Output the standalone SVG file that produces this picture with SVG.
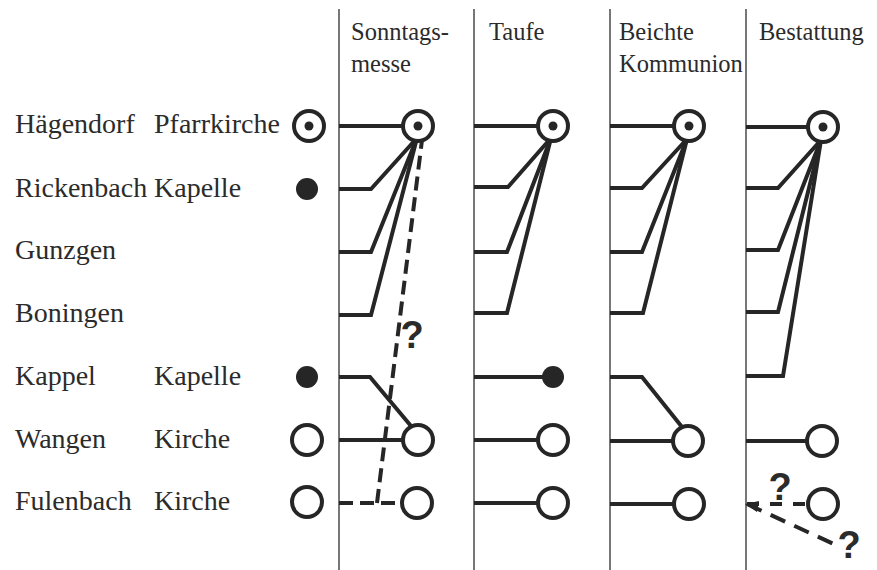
<svg xmlns="http://www.w3.org/2000/svg" width="877" height="570" viewBox="0 0 877 570">
<style>
.lab{font-family:"Liberation Serif","Times New Roman",serif;font-size:28px;fill:#2b2b2b}
.hd{font-family:"Liberation Serif","Times New Roman",serif;font-size:24.5px;fill:#2b2b2b}
.q{font-family:"Liberation Sans",Arial,sans-serif;font-size:38px;font-weight:bold;fill:#2b2b2b;text-anchor:middle}
.sep{stroke:#555;stroke-width:1.6;fill:none}
.ln{stroke:#262626;stroke-width:4;fill:none;stroke-linejoin:miter}
.ds{stroke:#262626;stroke-width:4;fill:none;stroke-dasharray:14 7}
.oc{fill:#fff;stroke:#262626;stroke-width:4}
.dot{fill:#262626}
</style>
<rect width="877" height="570" fill="#fff"/>
<g id="separators">
<line class="sep" x1="339" y1="9" x2="339" y2="570"/>
<line class="sep" x1="474" y1="9" x2="474" y2="570"/>
<line class="sep" x1="610" y1="9" x2="610" y2="570"/>
<line class="sep" x1="746" y1="9" x2="746" y2="570"/>
</g>
<g id="headers">
<text class="hd" x="351" y="40">Sonntags-</text>
<text class="hd" x="351" y="72">messe</text>
<text class="hd" x="489" y="40">Taufe</text>
<text class="hd" x="619" y="40">Beichte</text>
<text class="hd" x="619" y="72">Kommunion</text>
<text class="hd" x="759" y="40">Bestattung</text>
</g>
<g id="connectors">
<!-- column 1: Sonntagsmesse -->
<line class="ln" x1="339" y1="126" x2="410" y2="126"/>
<polyline class="ln" points="339,189 371,189 417,138"/>
<polyline class="ln" points="339,252 371,252 417,138"/>
<polyline class="ln" points="339,315 371,315 417,138"/>
<polyline class="ln" points="339,377 370,377 416,432"/>
<line class="ln" x1="339" y1="440" x2="410" y2="440"/>
<line class="ds" x1="339" y1="503" x2="404" y2="503"/>
<line class="ds" x1="377" y1="503" x2="422" y2="140"/>
<!-- column 2: Taufe -->
<line class="ln" x1="474" y1="126" x2="545" y2="126"/>
<polyline class="ln" points="474,187 508,187 551,138"/>
<polyline class="ln" points="474,252 507,252 551,138"/>
<polyline class="ln" points="474,313 507,313 551,138"/>
<line class="ln" x1="474" y1="377" x2="550" y2="377"/>
<line class="ln" x1="474" y1="440" x2="545" y2="440"/>
<line class="ln" x1="474" y1="503" x2="545" y2="503"/>
<!-- column 3: Beichte Kommunion -->
<line class="ln" x1="610" y1="126" x2="681" y2="126"/>
<polyline class="ln" points="610,188 642,188 687,139"/>
<polyline class="ln" points="610,252 642,252 687,139"/>
<polyline class="ln" points="610,313 643,313 687,139"/>
<polyline class="ln" points="610,377 642,377 686,432"/>
<line class="ln" x1="610" y1="441" x2="680" y2="441"/>
<line class="ln" x1="610" y1="504" x2="681" y2="504"/>
<!-- column 4: Bestattung -->
<line class="ln" x1="746" y1="127" x2="815" y2="127"/>
<polyline class="ln" points="746,188 778,188 821,140"/>
<polyline class="ln" points="746,250 778,250 821,140"/>
<polyline class="ln" points="746,312 778,312 821,140"/>
<polyline class="ln" points="746,376 783,376 821,140"/>
<line class="ln" x1="746" y1="441" x2="814" y2="441"/>
<line class="ln" x1="747" y1="504" x2="815" y2="504" style="stroke-dasharray:12 11"/>
<line class="ln" x1="747" y1="504" x2="838" y2="546" style="stroke-dasharray:16 10"/>
<polygon class="dot" points="745,504 759,501 757,512"/>
</g>
<g id="row-haegendorf">
<text class="lab" x="15" y="133">Hägendorf</text>
<text class="lab" x="154" y="133">Pfarrkirche</text>
<circle class="oc" cx="309" cy="126" r="15"/><circle class="dot" cx="309" cy="126" r="4.5"/>
</g>
<g id="row-rickenbach">
<text class="lab" x="15" y="197">Rickenbach</text>
<text class="lab" x="154" y="197">Kapelle</text>
<circle class="dot" cx="307" cy="189" r="11"/>
</g>
<g id="row-gunzgen">
<text class="lab" x="15" y="259">Gunzgen</text>
</g>
<g id="row-boningen">
<text class="lab" x="15" y="322">Boningen</text>
</g>
<g id="row-kappel">
<text class="lab" x="15" y="385">Kappel</text>
<text class="lab" x="154" y="385">Kapelle</text>
<circle class="dot" cx="307" cy="377" r="11"/>
</g>
<g id="row-wangen">
<text class="lab" x="15" y="448">Wangen</text>
<text class="lab" x="154" y="448">Kirche</text>
<circle class="oc" cx="307" cy="440" r="15"/>
</g>
<g id="row-fulenbach">
<text class="lab" x="15" y="510">Fulenbach</text>
<text class="lab" x="154" y="510">Kirche</text>
<circle class="oc" cx="307" cy="502" r="15"/>
</g>
<g id="col-sonntagsmesse">
<circle class="oc" cx="418" cy="126" r="15"/><circle class="dot" cx="418" cy="126" r="4.5"/>
<circle class="oc" cx="418" cy="440" r="15"/>
<circle class="oc" cx="417" cy="503" r="15"/>
<text class="q" x="412" y="348">?</text>
</g>
<g id="col-taufe">
<circle class="oc" cx="553" cy="126" r="15"/><circle class="dot" cx="553" cy="126" r="4.5"/>
<circle class="dot" cx="553" cy="377" r="11"/>
<circle class="oc" cx="553" cy="440" r="15"/>
<circle class="oc" cx="553" cy="503" r="15"/>
</g>
<g id="col-beichte">
<circle class="oc" cx="689" cy="126" r="15"/><circle class="dot" cx="689" cy="126" r="4.5"/>
<circle class="oc" cx="688" cy="441" r="15"/>
<circle class="oc" cx="689" cy="504" r="15"/>
</g>
<g id="col-bestattung">
<circle class="oc" cx="823" cy="127" r="15"/><circle class="dot" cx="823" cy="127" r="4.5"/>
<circle class="oc" cx="822" cy="441" r="15"/>
<circle class="oc" cx="823" cy="504" r="15"/>
<text class="q" x="780" y="500">?</text>
<text class="q" x="849" y="558">?</text>
</g>
</svg>
